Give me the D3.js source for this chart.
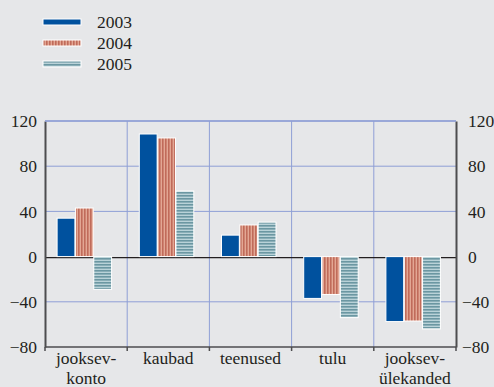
<!DOCTYPE html>
<html>
<head>
<meta charset="utf-8">
<script src="https://cdn.jsdelivr.net/npm/d3@7"></script>
<style>
  html, body { margin: 0; padding: 0; background: #e6e7e9; }
  svg { display: block; }
</style>
</head>
<body>
<svg id="chart" width="494" height="387"></svg>
<script>
// Current account components (bn), by year
const categories = [["jooksev-", "konto"], ["kaubad"], ["teenused"], ["tulu"], ["jooksev-", "ülekanded"]];
const series = ["2003", "2004", "2005"];
const values2003 = [34, 108.5, 19, -37, -57.5];
const values2004 = [43, 105, 28, -33.5, -57];
const values2005 = [-29, 58, 30.5, -54, -64];
const yTicks = [-80, -40, 0, 40, 80, 120];

const FONT = "'Liberation Serif'";
const FS = 17.5;
const svg = d3.select("#chart");
const margin = { left: 45, right: 38, top: 121, bottom: 40 };
const W = 494, H = 387;
const x0 = margin.left, x1 = W - margin.right;
const yTop = margin.top, yBot = H - margin.bottom;

const defs = svg.append("defs");
// vertical stripes for 2004
const p4 = defs.append("pattern").attr("id", "pat2004").attr("patternUnits", "userSpaceOnUse")
  .attr("width", 3).attr("height", 3);
p4.append("rect").attr("width", 3).attr("height", 3).attr("fill", "#e3a794");
p4.append("rect").attr("width", 1.6).attr("height", 3).attr("fill", "#c06b5a");
// horizontal stripes for 2005
const p5 = defs.append("pattern").attr("id", "pat2005").attr("patternUnits", "userSpaceOnUse")
  .attr("width", 3).attr("height", 3);
p5.append("rect").attr("width", 3).attr("height", 3).attr("fill", "#b9d2d8");
p5.append("rect").attr("width", 3).attr("height", 1.6).attr("fill", "#6b97a2");

const fills = { "2003": "#00519e", "2004": "url(#pat2004)", "2005": "url(#pat2005)" };

const x = d3.scaleBand().domain(d3.range(categories.length)).range([x0, x1]).paddingInner(0).paddingOuter(0);
const xs = d3.scaleBand().domain(series).range([0, 55]).padding(0);
const y = d3.scaleLinear().domain([-80, 120]).range([yBot, yTop]);

const gridColor = "#8f9fd6";
// horizontal grid
svg.append("g").selectAll("line").data(yTicks.filter(t => t !== 0 && t !== -80)).join("line")
  .attr("x1", x0).attr("x2", x1)
  .attr("y1", d => y(d)).attr("y2", d => y(d))
  .attr("stroke", gridColor).attr("stroke-width", 1);
// vertical grid at category boundaries
svg.append("g").selectAll("line").data(d3.range(1, categories.length)).join("line")
  .attr("x1", d => x(d)).attr("x2", d => x(d))
  .attr("y1", yTop).attr("y2", yBot)
  .attr("stroke", gridColor).attr("stroke-width", 1);

// zero line
svg.append("line").attr("x1", x0).attr("x2", x1)
  .attr("y1", y(0) + 1).attr("y2", y(0) + 1)
  .attr("stroke", "#231f20").attr("stroke-width", 1.2);

// bars
const data = [];
categories.forEach((c, i) => {
  [values2003, values2004, values2005].forEach((arr, j) => {
    data.push({ cat: i, s: series[j], v: arr[i] });
  });
});
svg.append("g").selectAll("rect").data(data).join("rect")
  .attr("x", d => x(d.cat) + (x.bandwidth() - 55) / 2 - 1.5 + xs(d.s))
  .attr("width", xs.bandwidth() - 0.5)
  .attr("y", d => y(Math.max(0, d.v)))
  .attr("height", d => Math.abs(y(d.v) - y(0)))
  .attr("fill", d => fills[d.s])
  .attr("stroke", "#ffffff").attr("stroke-width", 1);

// left and right axes
const axisColor = "#4d4d4f";
const yAxisL = d3.axisLeft(y).tickValues(yTicks).tickSize(0).tickPadding(8);
const yAxisR = d3.axisRight(y).tickValues(yTicks).tickSize(0).tickPadding(12);
const gL = svg.append("g").attr("transform", `translate(${x0},0)`).call(yAxisL);
const gR = svg.append("g").attr("transform", `translate(${x1},0)`).call(yAxisR);
[gL, gR].forEach(g => {
  g.select(".domain").attr("stroke", axisColor).attr("stroke-width", 2);
  g.selectAll("text").attr("fill", "#231f20")
    .attr("font-family", FONT).attr("font-size", FS);
});
// right-hand labels keep their digits aligned; minus signs hang to the left
gR.selectAll(".tick text").attr("dx", d => d < 0 ? -6 : 0);

// bottom axis with boundary ticks
const gB = svg.append("g");
gB.append("line").attr("x1", x0).attr("x2", x1).attr("y1", yBot).attr("y2", yBot)
  .attr("stroke", axisColor).attr("stroke-width", 1.5);
gB.selectAll("line.tk").data(d3.range(0, categories.length + 1)).join("line").attr("class", "tk")
  .attr("x1", d => x0 + d * x.bandwidth()).attr("x2", d => x0 + d * x.bandwidth())
  .attr("y1", yBot).attr("y2", yBot + 4)
  .attr("stroke", axisColor).attr("stroke-width", 1.5);
// top border
svg.append("line").attr("x1", x0).attr("x2", x1).attr("y1", yTop).attr("y2", yTop)
  .attr("stroke", gridColor).attr("stroke-width", 1.5);

// category labels
const labels = svg.append("g")
  .selectAll("text").data(categories).join("text")
  .attr("font-family", FONT).attr("font-size", FS).attr("fill", "#231f20")
  .attr("x", (d, i) => x(i) + x.bandwidth() / 2)
  .attr("y", yBot + 17)
  .attr("text-anchor", "middle");
labels.selectAll("tspan").data(d => d).join("tspan")
  .attr("x", function () { return d3.select(this.parentNode).attr("x"); })
  .attr("dy", (d, i) => i === 0 ? 0 : 20)
  .text(d => d);

// legend
const leg = svg.append("g")
  .selectAll("g").data(series).join("g")
  .attr("transform", (d, i) => `translate(43, ${22 + i * 21})`);
leg.append("rect").attr("x", 0).attr("y", -3).attr("width", 38).attr("height", 6)
  .attr("fill", d => fills[d]).attr("stroke", "#ffffff").attr("stroke-width", 1);
leg.append("text").attr("x", 54).attr("y", 5.5)
  .attr("font-family", FONT).attr("font-size", FS).attr("fill", "#231f20")
  .text(d => d);
</script>
</body>
</html>
